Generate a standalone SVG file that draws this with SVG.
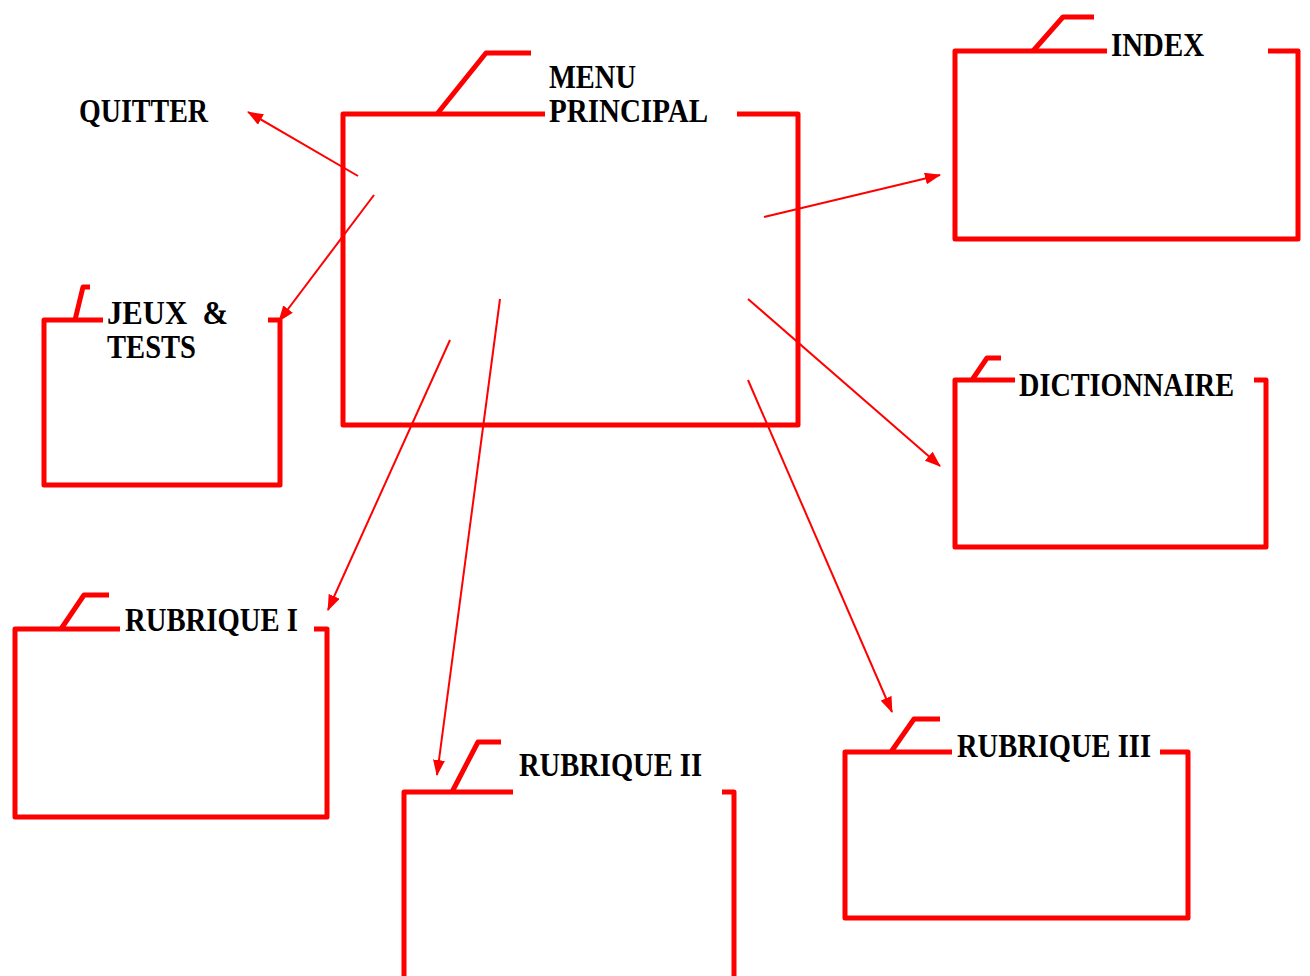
<svg xmlns="http://www.w3.org/2000/svg" width="1310" height="976" viewBox="0 0 1310 976">
<defs>
<style>
.box{fill:none;stroke:#ff0000;stroke-width:5;stroke-linejoin:round;stroke-linecap:butt}
.lbl{font-family:"Liberation Serif","Times New Roman",serif;font-weight:bold;font-size:34px;fill:#000;white-space:pre}
.con{stroke:#ff0000;stroke-width:2;fill:none}
</style>
<marker id="ah" markerWidth="16" markerHeight="12" refX="15" refY="6" orient="auto" markerUnits="userSpaceOnUse">
<path d="M0,0 L16,6 L0,12 Z" fill="#ff0000"/>
</marker>
</defs>
<rect width="1310" height="976" fill="#fff"/>

<g id="menu">
<path class="box" d="M545,114 H343 V425 H798 V114 H737"/>
<path class="box" d="M437,114 L486,53 H531"/>
<text class="lbl" x="549" y="88" textLength="87" lengthAdjust="spacingAndGlyphs">MENU</text>
<text class="lbl" x="549" y="122" textLength="159" lengthAdjust="spacingAndGlyphs">PRINCIPAL</text>
</g>

<g id="quitter">
<text class="lbl" x="79" y="122" textLength="129" lengthAdjust="spacingAndGlyphs">QUITTER</text>
</g>

<g id="index">
<path class="box" d="M1107,51 H955 V239 H1298 V51 H1268"/>
<path class="box" d="M1033,51 L1063,17 H1094"/>
<text class="lbl" x="1111" y="56" textLength="93" lengthAdjust="spacingAndGlyphs">INDEX</text>
</g>

<g id="jeux">
<path class="box" d="M103,320 H44 V485 H280 V320 H268"/>
<path class="box" d="M75,320 L83,287 H90"/>
<text class="lbl" x="107" y="324" xml:space="preserve" textLength="121" lengthAdjust="spacingAndGlyphs">JEUX  &amp;</text>
<text class="lbl" x="107" y="358" textLength="89" lengthAdjust="spacingAndGlyphs">TESTS</text>
</g>

<g id="dictionnaire">
<path class="box" d="M1015,380 H955 V547 H1266 V380 H1254"/>
<path class="box" d="M972,380 L987,358 H1001"/>
<text class="lbl" x="1019" y="396" textLength="215" lengthAdjust="spacingAndGlyphs">DICTIONNAIRE</text>
</g>

<g id="rubrique1">
<path class="box" d="M120,629 H15 V817 H327 V629 H314"/>
<path class="box" d="M61,629 L84,595 H109"/>
<text class="lbl" x="125" y="631" textLength="173" lengthAdjust="spacingAndGlyphs">RUBRIQUE I</text>
</g>

<g id="rubrique2">
<path class="box" d="M513,792 H404 V980 M734,980 V792 H722"/>
<path class="box" d="M452,792 L478,742 H501"/>
<text class="lbl" x="519" y="776" textLength="183" lengthAdjust="spacingAndGlyphs">RUBRIQUE II</text>
</g>

<g id="rubrique3">
<path class="box" d="M952,752 H845 V918 H1188 V752 H1160"/>
<path class="box" d="M891,752 L914,719 H940"/>
<text class="lbl" x="957" y="757" textLength="194" lengthAdjust="spacingAndGlyphs">RUBRIQUE III</text>
</g>

<g id="connectors">
<line class="con" x1="358" y1="176" x2="248" y2="112" marker-end="url(#ah)"/>
<line class="con" x1="374" y1="195" x2="279" y2="321" marker-end="url(#ah)"/>
<line class="con" x1="764" y1="217" x2="940" y2="175" marker-end="url(#ah)"/>
<line class="con" x1="748" y1="299" x2="940" y2="466" marker-end="url(#ah)"/>
<line class="con" x1="450" y1="340" x2="328" y2="610" marker-end="url(#ah)"/>
<line class="con" x1="500" y1="299" x2="437" y2="775" marker-end="url(#ah)"/>
<line class="con" x1="748" y1="380" x2="892" y2="712" marker-end="url(#ah)"/>
</g>
</svg>
